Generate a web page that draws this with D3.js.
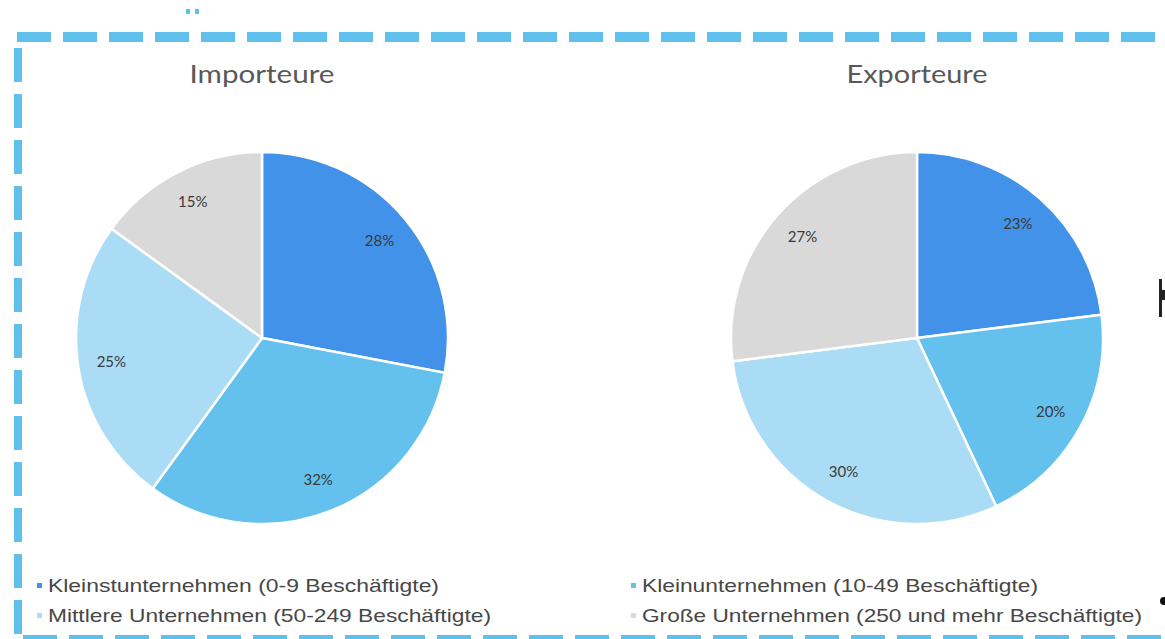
<!DOCTYPE html>
<html>
<head>
<meta charset="utf-8">
<script src="https://cdn.jsdelivr.net/npm/d3@7"></script>
<style>
    html, body { margin: 0; padding: 0; background: #fff; }
    svg { display: block; }
    .pie-title { font-family: Lato, "Open Sans", sans-serif; font-size: 25px; fill: #595959; }
    .pct-label { font-family: Lato, "Open Sans", sans-serif; font-size: 15px; fill: #3a3a3a; }
    .legend-text { font-family: "Liberation Sans", Arial, sans-serif; font-size: 19px; fill: #474747; }
</style>
</head>
<body>
<div id="chart"></div>
<script>
(function () {
    /* ----------------------- Data ----------------------- */
    const categories = [
        "Kleinstunternehmen (0-9 Beschäftigte)",
        "Kleinunternehmen (10-49 Beschäftigte)",
        "Mittlere Unternehmen (50-249 Beschäftigte)",
        "Große Unternehmen (250 und mehr Beschäftigte)"
    ];
    const importValues = [28, 32, 25, 15];
    const exportValues = [23, 20, 30, 27];
    const chartTitles = ["Importeure", "Exporteure"];

    /* ----------------------- Dimensions ----------------------- */
    const width = 1165;
    const height = 639;
    const radius = 186;
    const centers = [[262, 338], [917, 338]];
    // the screenshot is a bit stretched horizontally, so text is fitted to its measured width
    const titleWidths = [145, 141];
    const legendPos = [[37, 585], [631, 585], [37, 615], [631, 615]];
    const legendWidths = [391, 396, 443, 500];

    const colorScale = d3.scaleOrdinal()
        .domain(categories)
        .range(["#4392e9", "#64c1ee", "#aadcf5", "#d9d9d9"]);

    const svg = d3.select("#chart")
        .append("svg")
        .attr("width", width)
        .attr("height", height);

    /* ----------------------- Dashed frame ----------------------- */
    const borderColor = "#5fc0ec";
    svg.append("line")
        .attr("x1", 17).attr("x2", width).attr("y1", 37).attr("y2", 37)
        .attr("stroke", borderColor).attr("stroke-width", 10)
        .attr("stroke-dasharray", "34 12");
    svg.append("line")
        .attr("x1", 18).attr("x2", 18).attr("y1", 48).attr("y2", height)
        .attr("stroke", borderColor).attr("stroke-width", 8)
        .attr("stroke-dasharray", "34 12");
    svg.append("line")
        .attr("x1", 23).attr("x2", width).attr("y1", 640).attr("y2", 640)
        .attr("stroke", borderColor).attr("stroke-width", 10)
        .attr("stroke-dasharray", "34 12");

    // small stray marks from the original screenshot
    svg.append("rect").attr("x", 186).attr("y", 9).attr("width", 4).attr("height", 5).attr("fill", borderColor);
    svg.append("rect").attr("x", 195).attr("y", 9).attr("width", 4).attr("height", 5).attr("fill", borderColor);
    svg.append("rect").attr("x", 1159).attr("y", 279).attr("width", 3).attr("height", 38).attr("fill", "#222");
    svg.append("rect").attr("x", 1162).attr("y", 290).attr("width", 3).attr("height", 10).attr("fill", "#222");
    svg.append("circle").attr("cx", 1164).attr("cy", 601).attr("r", 4).attr("fill", "#111");

    /* ----------------------- Pies ----------------------- */
    const pie = d3.pie().sort(null).value((d) => d.value);
    const arc = d3.arc().innerRadius(0).outerRadius(radius);
    const labelArc = d3.arc().innerRadius(radius * 0.82).outerRadius(radius * 0.82);

    [importValues, exportValues].forEach((values, i) => {
        const data = categories.map((c, j) => ({ key: c, value: values[j] }));
        const g = svg.append("g")
            .attr("transform", `translate(${centers[i][0]},${centers[i][1]})`);

        const slices = g.selectAll(".slice")
            .data(pie(data))
            .enter()
            .append("g")
            .attr("class", "slice");

        slices.append("path")
            .attr("d", arc)
            .attr("fill", (d) => colorScale(d.data.key))
            .attr("stroke", "#fff")
            .attr("stroke-width", 2.5);

        slices.append("text")
            .attr("class", "pct-label")
            .attr("transform", (d) => `translate(${labelArc.centroid(d)})`)
            .attr("text-anchor", "middle")
            .attr("dy", "0.35em")
            .text((d) => d.data.value + "%");

        svg.append("text")
            .attr("class", "pie-title")
            .attr("x", centers[i][0] - titleWidths[i] / 2)
            .attr("y", 83)
            .attr("textLength", titleWidths[i])
            .attr("lengthAdjust", "spacingAndGlyphs")
            .text(chartTitles[i]);
    });

    /* ----------------------- Legend ----------------------- */
    const legend = svg.selectAll(".legend")
        .data(categories)
        .enter()
        .append("g")
        .attr("class", "legend")
        .attr("transform", (d, i) => `translate(${legendPos[i][0]},${legendPos[i][1]})`);

    legend.append("rect")
        .attr("x", 0)
        .attr("y", -2)
        .attr("width", 5)
        .attr("height", 5)
        .attr("fill", (d) => colorScale(d));

    legend.append("text")
        .attr("class", "legend-text")
        .attr("x", 11)
        .attr("dy", "0.35em")
        .attr("textLength", (d, i) => legendWidths[i])
        .attr("lengthAdjust", "spacingAndGlyphs")
        .text((d) => d);
})();
</script>
</body>
</html>
